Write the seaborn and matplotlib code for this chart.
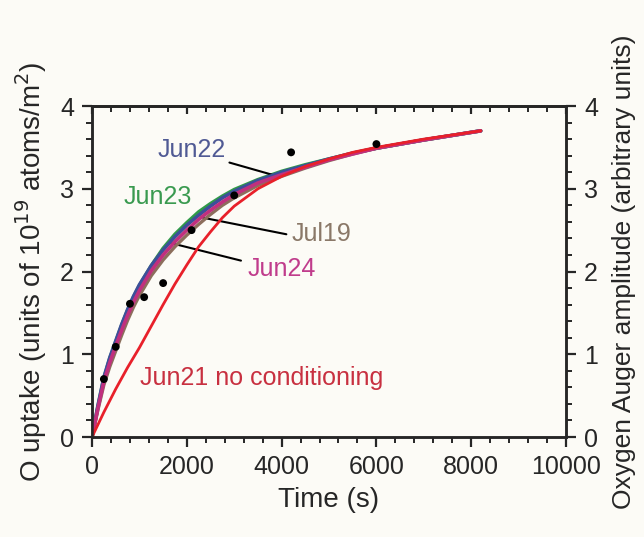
import matplotlib
matplotlib.use("Agg")
import matplotlib.pyplot as plt
import seaborn as sns
import pandas as pd
from matplotlib.ticker import MultipleLocator

# ---- data ----
time_s = [0, 125, 250, 375, 500, 625, 750, 875, 1000, 1250, 1500, 1750, 2000, 2250,
          2500, 2750, 3000, 3500, 4000, 4500, 5000, 5500, 6000, 6500, 7000, 7600, 8200]
jun22 = [0, 0.38, 0.72, 0.96, 1.16, 1.36, 1.54, 1.70, 1.84, 2.07, 2.26, 2.42, 2.56, 2.68,
         2.79, 2.89, 2.97, 3.10, 3.20, 3.28, 3.36, 3.43, 3.49, 3.54, 3.59, 3.645, 3.70]
jun23 = [0, 0.37, 0.71, 0.95, 1.15, 1.35, 1.53, 1.69, 1.83, 2.07, 2.28, 2.45, 2.59, 2.72,
         2.82, 2.91, 2.99, 3.11, 3.21, 3.29, 3.36, 3.43, 3.49, 3.54, 3.59, 3.645, 3.70]
jun24 = [0, 0.35, 0.67, 0.90, 1.10, 1.29, 1.47, 1.63, 1.77, 2.01, 2.20, 2.36, 2.50, 2.63,
         2.74, 2.84, 2.93, 3.07, 3.17, 3.26, 3.35, 3.42, 3.49, 3.54, 3.59, 3.645, 3.70]
jul19 = [0, 0.33, 0.63, 0.85, 1.04, 1.23, 1.41, 1.57, 1.71, 1.95, 2.14, 2.30, 2.44, 2.57,
         2.69, 2.80, 2.89, 3.04, 3.15, 3.25, 3.34, 3.42, 3.49, 3.54, 3.59, 3.645, 3.70]
jun21 = [0, 0.15, 0.30, 0.44, 0.58, 0.71, 0.84, 0.96, 1.08, 1.34, 1.60, 1.85, 2.08, 2.30,
         2.48, 2.65, 2.79, 3.00, 3.15, 3.27, 3.36, 3.44, 3.50, 3.55, 3.60, 3.65, 3.70]

pts_time = [250, 500, 800, 1100, 1500, 2100, 3000, 4200, 6000]
pts_uptake = [0.70, 1.09, 1.61, 1.69, 1.86, 2.50, 2.92, 3.44, 3.54]

x_ticks = [0, 2000, 4000, 6000, 8000, 10000]
y_ticks = [0, 1, 2, 3, 4]

# drawing order: first is at the bottom
series = [
    ("Jun23", jun23, "#2f9a48", 2.6),
    ("Jun22", jun22, "#3c4f9a", 2.6),
    ("Jul19", jul19, "#8c6e5c", 2.4),
    ("Jun24", jun24, "#c0307e", 2.6),
    ("Jun21", jun21, "#e8202a", 2.0),
]

sns.set_style("ticks")
plt.rcParams["font.family"] = ["Liberation Sans", "DejaVu Sans"]
bg = "#fcfbf6"

fig = plt.figure(figsize=(6.44, 5.37), dpi=100, facecolor=bg)
ax = fig.add_axes([0.1429, 0.1862, 0.736, 0.6164])
ax.set_facecolor(bg)

for i, (name, vals, col, lw) in enumerate(series):
    df = pd.DataFrame({"t": time_s, "y": vals})
    sns.lineplot(data=df, x="t", y="y", ax=ax, color=col, lw=lw, zorder=3 + i * 0.1)

pdf = pd.DataFrame({"t": pts_time, "y": pts_uptake})
sns.scatterplot(data=pdf, x="t", y="y", ax=ax, color="black", s=32,
                edgecolor="none", zorder=5)

ax.set_xlim(0, 10000)
ax.set_ylim(0, 4)
ax.set_xticks(x_ticks)
ax.set_yticks(y_ticks)
ax.xaxis.set_minor_locator(MultipleLocator(400))
ax.yaxis.set_minor_locator(MultipleLocator(0.2))
ax.tick_params(which="major", direction="out", length=7, width=1.6, labelsize=18, pad=6)
ax.tick_params(which="minor", direction="out", length=4, width=1.4)
for s in ax.spines.values():
    s.set_linewidth(1.8)
    s.set_visible(True)

ax.set_xlabel("Time (s)", fontsize=20, labelpad=6)
ax.set_ylabel("O uptake (units of 10$^{19}$ atoms/m$^{2}$)", fontsize=20, labelpad=8)

# top inward ticks
top = ax.secondary_xaxis("top")
top.set_xticks(x_ticks)
top.xaxis.set_minor_locator(MultipleLocator(400))
top.tick_params(which="major", direction="in", length=6, width=1.6, labeltop=False)
top.tick_params(which="minor", direction="in", length=4, width=1.4)
top.spines["top"].set_linewidth(1.8)

# right axis
ax2 = ax.twinx()
ax2.set_ylim(0, 4)
ax2.set_yticks(y_ticks)
ax2.yaxis.set_minor_locator(MultipleLocator(0.2))
ax2.tick_params(which="major", direction="out", length=7, width=1.6, labelsize=18, pad=6)
ax2.tick_params(which="minor", direction="out", length=4, width=1.4)
for s in ax2.spines.values():
    s.set_linewidth(1.8)
ax2.set_ylabel("Oxygen Auger amplitude (arbitrary units)", fontsize=19, labelpad=10)

# annotations
lk = dict(arrowstyle="-", color="black", lw=1.5, shrinkA=0, shrinkB=0)
ax.annotate("Jun22", xy=(3797, 3.17), xytext=(2110, 3.47), color="#505a94",
            fontsize=18, ha="center", va="center", arrowprops=dict(lk, relpos=(0.95, 0.05)))
ax.text(1392, 2.90, "Jun23", color="#3a9a50", fontsize=18, ha="center", va="center")
ax.annotate("Jul19", xy=(2342, 2.65), xytext=(4831, 2.45), color="#8a7868",
            fontsize=18, ha="center", va="center", arrowprops=dict(lk, relpos=(-0.08, 0.5)))
ax.annotate("Jun24", xy=(1688, 2.34), xytext=(4008, 2.03), color="#c03c8c",
            fontsize=18, ha="center", va="center", arrowprops=dict(lk, relpos=(-0.1, 0.85)))
ax.text(3586, 0.71, "Jun21 no conditioning", color="#c83040", fontsize=18,
        ha="center", va="center")

fig.savefig("out.png", dpi=100, facecolor=bg)
